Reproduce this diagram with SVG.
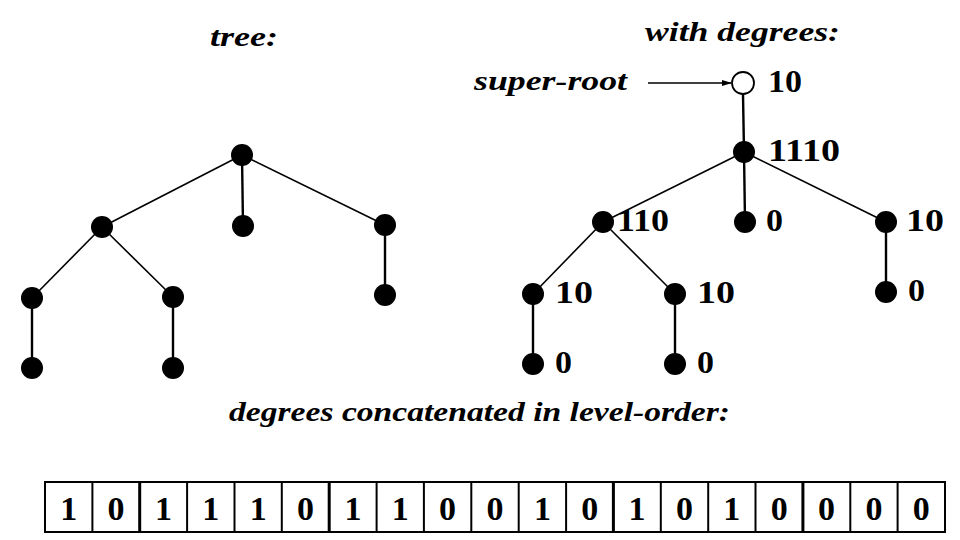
<svg xmlns="http://www.w3.org/2000/svg" width="960" height="540" viewBox="0 0 960 540">
<style>
.t{font-family:"Liberation Serif",serif;font-style:italic;font-weight:bold;font-size:27px;fill:#000}
.n{font-family:"Liberation Serif",serif;font-weight:bold;font-size:31px;fill:#000}
.b{font-family:"Liberation Serif",serif;font-weight:bold;font-size:34px;fill:#000;text-anchor:middle}
.e{stroke:#000;stroke-width:1.6;fill:none}
.v{stroke:#000;stroke-width:2.4;fill:none}
.f{fill:#000}
.o{fill:#fff;stroke:#000;stroke-width:1.8}
.c{fill:#fff;stroke:#000;stroke-width:2}
</style>
<defs>
<marker id="ah" markerWidth="10" markerHeight="8" refX="9" refY="4" orient="auto" markerUnits="userSpaceOnUse">
<path d="M0,1 L10,4 L0,7 Z" fill="#000"/>
</marker>
</defs>
<rect width="960" height="540" fill="#fff"/>

<text class="t" x="210" y="46" textLength="68" lengthAdjust="spacingAndGlyphs">tree:</text>
<text class="t" x="645" y="41" textLength="195" lengthAdjust="spacingAndGlyphs">with degrees:</text>
<text class="t" x="474" y="90" textLength="153" lengthAdjust="spacingAndGlyphs">super-root</text>
<text class="t" x="229" y="421" textLength="501" lengthAdjust="spacingAndGlyphs">degrees concatenated in level-order:</text>

<g id="connectors">
<line class="e" x1="242" y1="155" x2="102" y2="227"/>
<line class="v" x1="242" y1="155" x2="243" y2="226"/>
<line class="e" x1="242" y1="155" x2="385" y2="225"/>
<line class="e" x1="102" y1="227" x2="32" y2="298"/>
<line class="e" x1="102" y1="227" x2="173" y2="297"/>
<line class="v" x1="385" y1="225" x2="385" y2="295"/>
<line class="v" x1="32" y1="298" x2="32" y2="368"/>
<line class="v" x1="173" y1="297" x2="173" y2="368"/>

<line class="e" x1="648" y1="83" x2="731" y2="83" marker-end="url(#ah)"/>
<line class="v" x1="743" y1="94" x2="744" y2="152"/>
<line class="e" x1="744" y1="152" x2="603" y2="222"/>
<line class="v" x1="744" y1="152" x2="745" y2="222"/>
<line class="e" x1="744" y1="152" x2="886" y2="222"/>
<line class="e" x1="603" y1="222" x2="533" y2="294"/>
<line class="e" x1="603" y1="222" x2="675" y2="294"/>
<line class="v" x1="886" y1="222" x2="886" y2="292"/>
<line class="v" x1="533" y1="294" x2="533" y2="364"/>
<line class="v" x1="675" y1="294" x2="675" y2="364"/>
</g>

<g id="L-root"><circle class="f" cx="242" cy="155" r="11"/></g>
<g id="L-a"><circle class="f" cx="102" cy="227" r="11"/></g>
<g id="L-b"><circle class="f" cx="243" cy="226" r="11"/></g>
<g id="L-c"><circle class="f" cx="385" cy="225" r="11"/></g>
<g id="L-aa"><circle class="f" cx="32" cy="298" r="11"/></g>
<g id="L-ab"><circle class="f" cx="173" cy="297" r="11"/></g>
<g id="L-ca"><circle class="f" cx="385" cy="295" r="11"/></g>
<g id="L-aaa"><circle class="f" cx="32" cy="368" r="11"/></g>
<g id="L-aba"><circle class="f" cx="173" cy="368" r="11"/></g>

<g id="R-super"><circle class="o" cx="743" cy="83" r="11"/><text class="n" x="768" y="92" textLength="34" lengthAdjust="spacingAndGlyphs">10</text></g>
<g id="R-root"><circle class="f" cx="744" cy="152" r="11"/><text class="n" x="768" y="161" textLength="72" lengthAdjust="spacingAndGlyphs">1110</text></g>
<g id="R-a"><circle class="f" cx="603" cy="222" r="11"/><text class="n" x="617" y="231" textLength="52" lengthAdjust="spacingAndGlyphs">110</text></g>
<g id="R-b"><circle class="f" cx="745" cy="222" r="11"/><text class="n" x="766" y="231" textLength="17" lengthAdjust="spacingAndGlyphs">0</text></g>
<g id="R-c"><circle class="f" cx="886" cy="222" r="11"/><text class="n" x="906" y="231" textLength="38" lengthAdjust="spacingAndGlyphs">10</text></g>
<g id="R-aa"><circle class="f" cx="533" cy="294" r="11"/><text class="n" x="555" y="303" textLength="38" lengthAdjust="spacingAndGlyphs">10</text></g>
<g id="R-ab"><circle class="f" cx="675" cy="294" r="11"/><text class="n" x="697" y="303" textLength="38" lengthAdjust="spacingAndGlyphs">10</text></g>
<g id="R-ca"><circle class="f" cx="886" cy="292" r="11"/><text class="n" x="908" y="301" textLength="17" lengthAdjust="spacingAndGlyphs">0</text></g>
<g id="R-aaa"><circle class="f" cx="533" cy="364" r="11"/><text class="n" x="555" y="373" textLength="17" lengthAdjust="spacingAndGlyphs">0</text></g>
<g id="R-aba"><circle class="f" cx="675" cy="364" r="11"/><text class="n" x="697" y="373" textLength="17" lengthAdjust="spacingAndGlyphs">0</text></g>

<g id="bits">
<rect class="c" x="45" y="482" width="900" height="50"/>
<g stroke="#000" stroke-width="2">
<line x1="92.4" y1="482" x2="92.4" y2="532"/>
<line x1="139.7" y1="482" x2="139.7" y2="532" stroke-width="3"/>
<line x1="187.1" y1="482" x2="187.1" y2="532"/>
<line x1="234.5" y1="482" x2="234.5" y2="532"/>
<line x1="281.8" y1="482" x2="281.8" y2="532"/>
<line x1="329.2" y1="482" x2="329.2" y2="532" stroke-width="3"/>
<line x1="376.6" y1="482" x2="376.6" y2="532"/>
<line x1="423.9" y1="482" x2="423.9" y2="532"/>
<line x1="471.3" y1="482" x2="471.3" y2="532"/>
<line x1="518.7" y1="482" x2="518.7" y2="532"/>
<line x1="566.1" y1="482" x2="566.1" y2="532"/>
<line x1="613.4" y1="482" x2="613.4" y2="532" stroke-width="3"/>
<line x1="660.8" y1="482" x2="660.8" y2="532"/>
<line x1="708.2" y1="482" x2="708.2" y2="532"/>
<line x1="755.5" y1="482" x2="755.5" y2="532"/>
<line x1="802.9" y1="482" x2="802.9" y2="532" stroke-width="3"/>
<line x1="850.3" y1="482" x2="850.3" y2="532"/>
<line x1="897.6" y1="482" x2="897.6" y2="532"/>
</g>
<text class="b" x="68.7" y="520">1</text>
<text class="b" x="116.1" y="520">0</text>
<text class="b" x="163.4" y="520">1</text>
<text class="b" x="210.8" y="520">1</text>
<text class="b" x="258.2" y="520">1</text>
<text class="b" x="305.5" y="520">0</text>
<text class="b" x="352.9" y="520">1</text>
<text class="b" x="400.3" y="520">1</text>
<text class="b" x="447.6" y="520">0</text>
<text class="b" x="495.0" y="520">0</text>
<text class="b" x="542.4" y="520">1</text>
<text class="b" x="589.7" y="520">0</text>
<text class="b" x="637.1" y="520">1</text>
<text class="b" x="684.5" y="520">0</text>
<text class="b" x="731.8" y="520">1</text>
<text class="b" x="779.2" y="520">0</text>
<text class="b" x="826.6" y="520">0</text>
<text class="b" x="873.9" y="520">0</text>
<text class="b" x="921.3" y="520">0</text>
</g>
</svg>
